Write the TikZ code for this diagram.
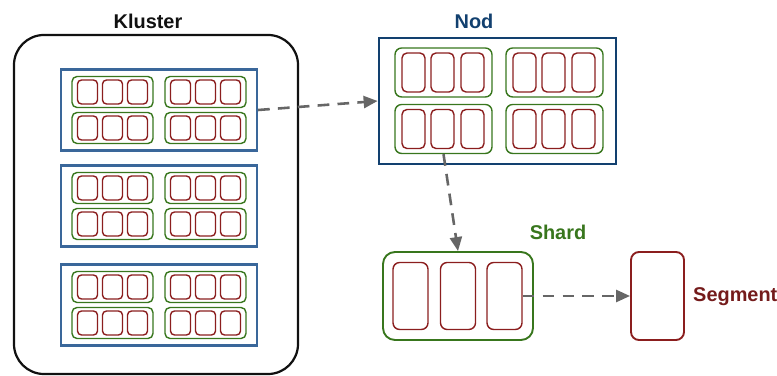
\documentclass[tikz,border=0pt]{standalone}
\usepackage{fontspec}
\setmainfont{Liberation Sans}
\usetikzlibrary{arrows.meta}
\definecolor{klblack}{HTML}{111111}
\definecolor{nodblue}{HTML}{12406F}
\definecolor{nodblue2}{HTML}{3A679A}
\definecolor{shardgreen}{HTML}{38761D}
\definecolor{segred}{HTML}{8B1E1E}
\definecolor{segdark}{HTML}{741B1B}
\definecolor{arrowgray}{HTML}{666666}

\begin{document}
\begin{tikzpicture}[x=0.03cm, y=-0.03cm]
\tikzstyle{box}=[rectangle, inner sep=0pt]
\tikzstyle{kluster}=[box, draw=klblack, line width=1.9pt, rounded corners=0.9cm, minimum width=8.52cm, minimum height=10.17cm]
\tikzstyle{nodsm}=[box, draw=nodblue2, line width=1.8pt, minimum width=5.88cm, minimum height=2.43cm]
\tikzstyle{shardsm}=[box, draw=shardgreen, line width=1.2pt, rounded corners=0.15cm, minimum width=2.43cm, minimum height=0.93cm]
\tikzstyle{segsm}=[box, draw=segred, line width=1.2pt, rounded corners=0.12cm, minimum width=0.6cm, minimum height=0.72cm]
\tikzstyle{nodbig}=[box, draw=nodblue, line width=2.3pt, minimum width=7.11cm, minimum height=3.78cm]
\tikzstyle{shardmd}=[box, draw=shardgreen, line width=1.2pt, rounded corners=0.2cm, minimum width=2.91cm, minimum height=1.47cm]
\tikzstyle{segmd}=[box, draw=segred, line width=1.2pt, rounded corners=0.15cm, minimum width=0.69cm, minimum height=1.17cm]
\tikzstyle{shardlg}=[box, draw=shardgreen, line width=1.6pt, rounded corners=0.36cm, minimum width=4.5cm, minimum height=2.64cm]
\tikzstyle{seglg}=[box, draw=segred, line width=1.2pt, rounded corners=0.2cm, minimum width=1.05cm, minimum height=2.01cm]
\tikzstyle{segbig}=[box, draw=segred, line width=1.6pt, rounded corners=0.24cm, minimum width=1.59cm, minimum height=2.64cm]
\tikzstyle{title}=[font=\fontsize{17}{20}\selectfont\bfseries, inner sep=0pt]
\tikzstyle{connect}=[-{Triangle[length=0.42cm, width=0.36cm]}, draw=arrowgray, line width=2.2pt, dash pattern=on 10pt off 7pt]

  \useasboundingbox (0,0) rectangle (777,376);

  % Kluster with three nodes
  \node[kluster] (kl) at (156,204.5) {};
  \node[title, text=klblack] (kltitle) at (148,21) {Kluster};
  \foreach \i/\y in {1/110, 2/206, 3/305} {
    \node[nodsm] (k\i) at (159,\y) {};
    \foreach \r/\dy in {1/-18, 2/18}
      \foreach \c/\dx in {1/-46.5, 2/46.5} {
        \node[shardsm] (k\i s\r\c) at (159+\dx,\y+\dy) {};
        \foreach \s/\ddx in {1/-25, 2/0, 3/25}
          \node[segsm] (k\i s\r\c g\s) at (159+\dx+\ddx,\y+\dy) {};
      }
  }

  % Nod
  \node[nodbig] (nod) at (497.5,101) {};
  \node[title, text=nodblue] (nodtitle) at (474,21) {Nod};
  \foreach \r/\y in {1/72.5, 2/129}
    \foreach \c/\x in {1/443.5, 2/554.5} {
      \node[shardmd] (n\r\c) at (\x,\y) {};
      \foreach \s/\dx in {1/-30, 2/-1, 3/29}
        \node[segmd] (n\r\c g\s) at (\x+\dx,\y) {};
    }

  % Shard
  \node[shardlg] (shard) at (458,296) {};
  \node[title, text=shardgreen] (shardtitle) at (558,232) {Shard};
  \node[seglg] (sh1) at (410.5,296) {};
  \node[seglg] (sh2) at (458,296) {};
  \node[seglg] (sh3) at (504.5,296) {};

  % Segment
  \node[segbig] (seg) at (657.5,296) {};
  \node[title, text=segdark, anchor=west] (segtitle) at (693,297) {Segment};

  \path (k1.east) edge [connect] (nod.west)
        (n21.south) edge [connect] (shard.north)
        (sh3.east) edge [connect] (seg.west);

\end{tikzpicture}
\end{document}
